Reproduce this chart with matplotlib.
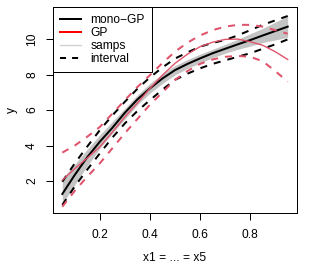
import numpy as np
import matplotlib
matplotlib.use("Agg")
import matplotlib.pyplot as plt

plt.rcParams["font.family"] = ["Liberation Sans", "DejaVu Sans"]

# x grid shared by all curves
x = [0.05, 0.10, 0.15, 0.20, 0.25, 0.30, 0.35, 0.40, 0.45, 0.50,
     0.55, 0.60, 0.65, 0.70, 0.75, 0.80, 0.85, 0.90, 0.95]

mono_mean = [1.27, 2.35, 3.35, 4.22, 5.00, 5.85, 6.60, 7.22, 7.78, 8.25,
             8.60, 8.91, 9.20, 9.45, 9.70, 9.94, 10.20, 10.45, 10.70]
mono_upper = [1.96, 3.00, 3.95, 4.87, 5.70, 6.47, 7.20, 7.84, 8.40, 8.90,
              9.25, 9.57, 9.78, 9.95, 10.20, 10.50, 10.80, 11.05, 11.30]
mono_lower = [0.65, 1.70, 2.65, 3.56, 4.45, 5.25, 5.95, 6.56, 7.15, 7.70,
              8.05, 8.35, 8.60, 8.80, 9.00, 9.20, 9.45, 9.70, 9.98]

gp_mean = [2.05, 2.70, 3.30, 3.93, 4.75, 5.62, 6.40, 7.22, 7.97, 8.63,
           9.15, 9.57, 9.82, 9.98, 10.00, 9.85, 9.65, 9.29, 8.85]
gp_upper = [3.60, 4.00, 4.50, 5.05, 5.80, 6.56, 7.30, 7.97, 8.65, 9.29,
            9.80, 10.20, 10.50, 10.70, 10.80, 10.80, 10.70, 10.50, 10.30]
gp_lower = [0.55, 1.45, 2.25, 3.00, 3.85, 4.70, 5.50, 6.30, 7.00, 7.70,
            8.20, 8.60, 8.85, 9.00, 9.05, 9.00, 8.75, 8.20, 7.60]

# envelope of the posterior sample paths
samps_hi = [2.15, 2.95, 3.80, 4.60, 5.35, 6.10, 6.85, 7.50, 8.05, 8.50,
            8.85, 9.15, 9.42, 9.70, 9.98, 10.30, 10.60, 10.95, 11.30]
samps_lo = [0.70, 1.80, 2.85, 3.85, 4.70, 5.50, 6.30, 6.95, 7.50, 7.98,
            8.35, 8.65, 8.95, 9.20, 9.42, 9.60, 9.80, 9.95, 10.10]

RED = "#DF536B"


def main():
    fig = plt.figure(figsize=(3.25, 2.76), dpi=100)
    ax = fig.add_axes([53.3 / 325, 1 - 213.3 / 276, 243.4 / 325, 206.0 / 276])

    ax.fill_between(x, samps_lo, samps_hi, color="#c4c4c4", lw=0)
    ax.plot(x, mono_mean, color="black", lw=1.45)
    ax.plot(x, mono_upper, color="black", lw=1.45, dashes=(3.5, 3.5))
    ax.plot(x, mono_lower, color="black", lw=1.45, dashes=(3.5, 3.5))
    ax.plot(x, gp_mean, color=RED, lw=1.0)
    ax.plot(x, gp_upper, color=RED, lw=1.45, dashes=(3.5, 3.5))
    ax.plot(x, gp_lower, color=RED, lw=1.45, dashes=(3.5, 3.5))

    ax.set_xlim(0.05 - 0.036, 0.95 + 0.036)
    ax.set_ylim(0.18, 11.79)
    ax.set_xticks([0.2, 0.4, 0.6, 0.8])
    ax.set_yticks([2, 4, 6, 8, 10])
    ax.tick_params(direction="out", length=5, width=0.72, labelsize=8.64, pad=6)
    ax.tick_params(axis="y", labelrotation=90)
    for lab in ax.get_yticklabels():
        lab.set_va("center")
    for sp in ax.spines.values():
        sp.set_linewidth(0.72)

    fig.text(175 / 325, 1 - 258 / 276, "x1 = ... = x5", ha="center", va="center", fontsize=8.64)
    fig.text(11.7 / 325, 1 - 110 / 276, "y", ha="center", va="center", rotation=90, fontsize=8.64)

    handles = [
        plt.Line2D([], [], color="black", lw=1.45),
        plt.Line2D([], [], color="red", lw=1.45),
        plt.Line2D([], [], color="#d3d3d3", lw=1.0),
        plt.Line2D([], [], color="black", lw=1.45, dashes=(3.0, 3.0)),
    ]
    leg = ax.legend(handles, ["mono\u2212GP", "GP", "samps", "interval"],
                    loc="upper left", borderaxespad=0, fancybox=False,
                    edgecolor="black", framealpha=1, fontsize=8.64,
                    handlelength=1.72, handletextpad=0.78, labelspacing=0.09,
                    borderpad=0.58)
    leg.get_frame().set_linewidth(0.72)

    fig.savefig("out.png", dpi=100)
    plt.close(fig)


if __name__ == "__main__":
    main()
